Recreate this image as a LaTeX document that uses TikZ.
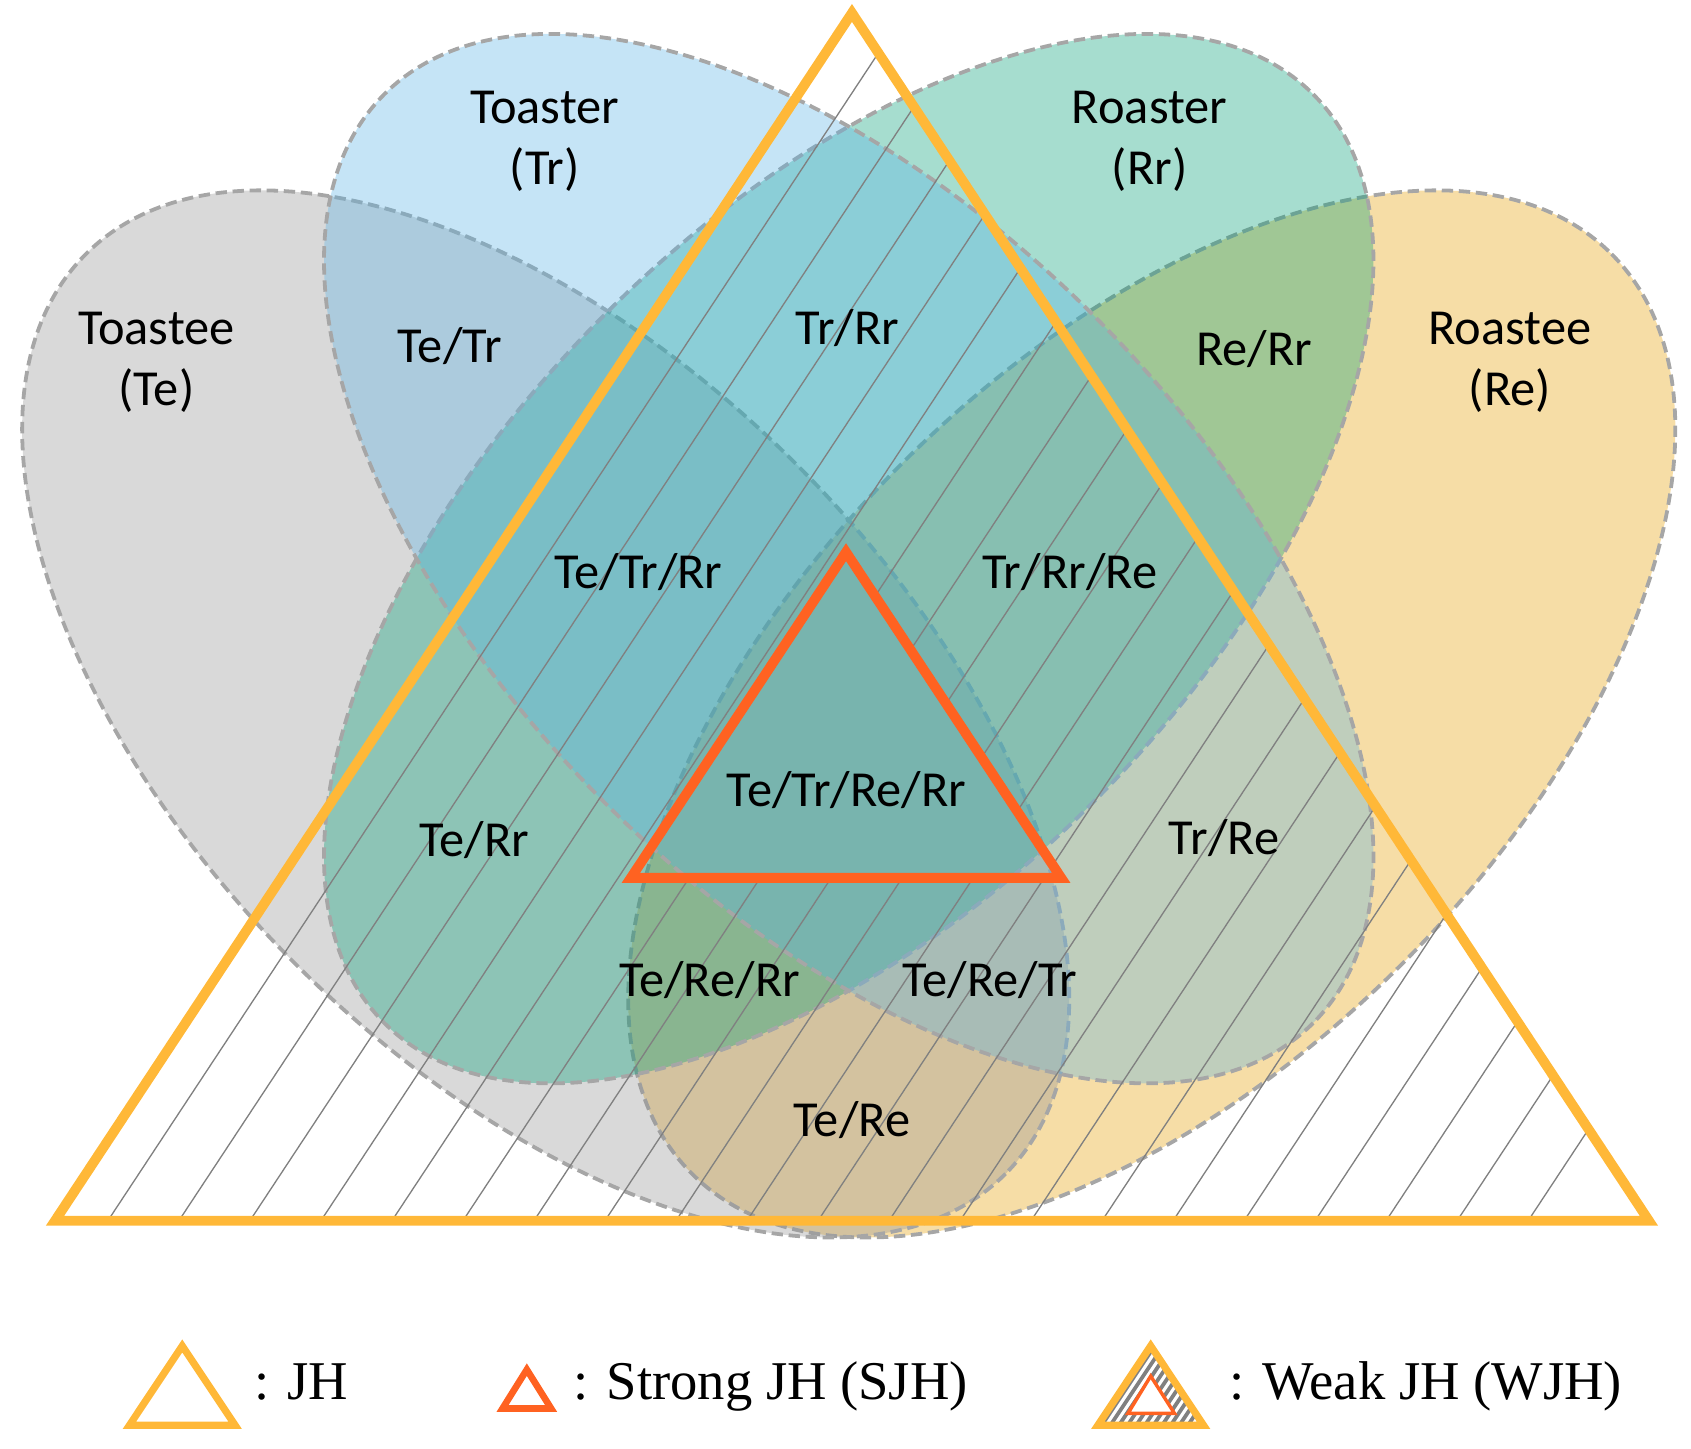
\documentclass[tikz,border=0pt]{standalone}
\usepackage{fontspec}
\setmainfont{Carlito}
\newfontfamily\legendfont{Liberation Serif}

\definecolor{tegray}{RGB}{146,146,146}
\definecolor{trblue}{RGB}{89,178,229}
\definecolor{rrgreen}{RGB}{1,158,118}
\definecolor{reyellow}{RGB}{229,158,1}
\definecolor{setline}{RGB}{166,166,166}
\definecolor{jhorange}{RGB}{255,184,56}
\definecolor{sjhred}{RGB}{255,98,33}
\definecolor{hatchgray}{RGB}{128,128,128}

\tikzset{
    setshape/.style={draw=setline, line width=1pt, dash pattern=on 3pt off 1.5pt, fill=#1, fill opacity=0.35},
    setlabel/.style={font=\fontsize{13.3pt}{16pt}\selectfont, inner sep=0pt, align=center},
    jhline/.style={draw=jhorange, line width=2.6pt},
    sjhline/.style={draw=sjhred, line width=2.6pt},
    hatchline/.style={draw=hatchgray, line width=0.35pt},
    legendtext/.style={font=\legendfont\fontsize{14.4pt}{17pt}\selectfont, anchor=base west, inner sep=0pt}
}

\begin{document}
\begin{tikzpicture}[x=0.01cm, y=-0.01cm]
    \useasboundingbox (0,0) rectangle (1568,1343);

    % the four sets
    \draw[setshape=reyellow, rotate around={45:(1068,662)}] (1068,662) ellipse [x radius=603, y radius=328];
    \draw[setshape=tegray, rotate around={-45:(506,662)}] (506,662) ellipse [x radius=603, y radius=328];
    \draw[setshape=rrgreen, rotate around={45:(787,518)}] (787,518) ellipse [x radius=609, y radius=320];
    \draw[setshape=trblue, rotate around={-45:(787,518)}] (787,518) ellipse [x radius=609, y radius=320];

    % weak region: JH without SJH
    \begin{scope}
        \clip (790,12) -- (1529,1132) -- (51,1132) -- cycle
              (784.5,512) -- (585,814) -- (984,814) -- cycle;
        \foreach \k in {0,...,20}
            \draw[hatchline] ({34+65.85*\k},1232) -- ++(805,-1220);
    \end{scope}

    \draw[jhline] (790,12) -- (1529,1132) -- (51,1132) -- cycle;
    \draw[sjhline] (784.5,512) -- (585,814) -- (984,814) -- cycle;

    \node[setlabel] (te) at (145,336) {Toastee\\(Te)};
    \node[setlabel] (tr) at (505,131) {Toaster\\(Tr)};
    \node[setlabel] (rr) at (1066,131) {Roaster\\(Rr)};
    \node[setlabel] (re) at (1400,336) {Roastee\\(Re)};

    \node[setlabel, anchor=base] (tetr) at (417,336) {Te/Tr};
    \node[setlabel, anchor=base] (trrr) at (786,319) {Tr/Rr};
    \node[setlabel, anchor=base] (rerr) at (1163,339) {Re/Rr};
    \node[setlabel, anchor=base] (tetrrr) at (592,546) {Te/Tr/Rr};
    \node[setlabel, anchor=base] (trrrre) at (992,546) {Tr/Rr/Re};
    \node[setlabel, anchor=base] (all) at (785,747.5) {Te/Tr/Re/Rr};
    \node[setlabel, anchor=base] (terr) at (440,794) {Te/Rr};
    \node[setlabel, anchor=base] (trre) at (1135,792) {Tr/Re};
    \node[setlabel, anchor=base] (tererr) at (658,924) {Te/Re/Rr};
    \node[setlabel, anchor=base] (teretr) at (918,924) {Te/Re/Tr};
    \node[setlabel, anchor=base] (tere) at (790,1054) {Te/Re};

    % legend
    \draw[jhline, line width=1.9pt] (169,1248) -- (218,1321.6) -- (120,1321.6) -- cycle;
    \node[legendtext] (jh) at (235,1298) {: JH};

    \draw[sjhline, line width=1.75pt] (488.5,1270) -- (511,1306) -- (466,1306) -- cycle;
    \node[legendtext] (sjh) at (531,1298) {: Strong JH (SJH)};

    \begin{scope}
        \clip (1067,1248) -- (1116,1321.6) -- (1018,1321.6) -- cycle
              (1067,1276) -- (1046,1310.5) -- (1089,1310.5) -- cycle;
        \foreach \x in {1022,1030,...,1118}
            \draw[draw=hatchgray, line width=1pt] (\x-10,1336) -- ++(80,-120);
    \end{scope}
    \draw[jhline, line width=1.9pt] (1067,1248) -- (1116,1321.6) -- (1018,1321.6) -- cycle;
    \draw[sjhline, line width=0.9pt] (1067,1276) -- (1089,1310.5) -- (1046,1310.5) -- cycle;
    \node[legendtext] (wjh) at (1139,1298) {: Weak JH (WJH)};
\end{tikzpicture}
\end{document}
